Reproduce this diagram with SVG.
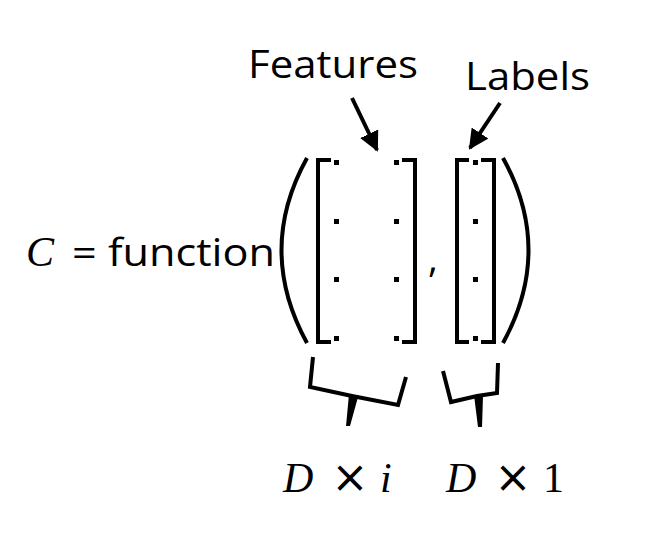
<svg xmlns="http://www.w3.org/2000/svg" width="655" height="540" viewBox="0 0 655 540">
<defs>
<style>
.t{font-family:"Open Sans","Liberation Sans",sans-serif;font-size:38px;fill:#000}
.m{font-family:"Liberation Serif","DejaVu Serif",serif;font-size:42px;fill:#000}
.x{font-family:"DejaVu Sans",sans-serif;font-size:44px;fill:#000;text-anchor:middle}
.s{fill:none;stroke:#000;stroke-width:4}
.d{fill:#000}
</style>
<marker id="ah" viewBox="0 0 10 10" refX="9" refY="5" markerWidth="5" markerHeight="5" orient="auto"><path d="M0,0L10,5L0,10z" fill="#000"/></marker>
</defs>
<rect width="655" height="540" fill="#fff"/>
<g id="labels">
<text class="t" x="248" y="78" textLength="170" lengthAdjust="spacingAndGlyphs">Features</text>
<text class="t" x="465" y="90" textLength="125" lengthAdjust="spacingAndGlyphs">Labels</text>
</g>
<g id="equation">
<text class="m" x="26" y="266" font-style="italic">C</text>
<text class="t" x="72" y="266" textLength="203" lengthAdjust="spacingAndGlyphs">= function</text>
<text class="t" x="428" y="272">,</text>
</g>
<g id="matrices">
<path class="s" d="M307,158 Q256,250 307,343"/>
<path class="s" d="M503,158 Q554,250 503,343"/>
<path class="s" d="M331,160 H318 V342 H331"/>
<path class="s" d="M402,160 H415 V342 H402"/>
<path class="s" d="M469,160 H457 V342 H469"/>
<path class="s" d="M481,160 H494 V342 H481"/>
<g class="d">
<rect x="334" y="160" width="5" height="5"/><rect x="394" y="160" width="5" height="5"/><rect x="473" y="160" width="5" height="5"/>
<rect x="334" y="219" width="5" height="5"/><rect x="394" y="219" width="5" height="5"/><rect x="473" y="219" width="5" height="5"/>
<rect x="334" y="277" width="5" height="5"/><rect x="394" y="277" width="5" height="5"/><rect x="473" y="277" width="5" height="5"/>
<rect x="334" y="336" width="5" height="5"/><rect x="394" y="336" width="5" height="5"/><rect x="473" y="336" width="5" height="5"/>
</g>
</g>
<g id="braces">
<path class="s" stroke-width="5" d="M313,357 L310,387 L352,396 L398,405 L406,377"/>
<path class="d" d="M349,394 L358,397 L350,426 L346,426 Z"/>
<path class="s" stroke-width="5" d="M443,371 L451,402 L477,396 L497,393 L498,363"/>
<path class="d" d="M474,395 L483,395 L482,427 L478,427 Z"/>
</g>
<g id="connectors">
<line class="s" x1="352" y1="98" x2="377" y2="150" stroke-width="3.5" marker-end="url(#ah)"/>
<line class="s" x1="500" y1="103" x2="470" y2="148" stroke-width="3.5" marker-end="url(#ah)"/>
</g>
<g id="dims">
<text class="m" x="283" y="492" font-style="italic">D</text>
<text class="x" x="350" y="492">×</text>
<text class="m" x="380" y="492" font-style="italic">i</text>
<text class="m" x="446" y="492" font-style="italic">D</text>
<text class="x" x="513" y="492">×</text>
<text class="m" x="543" y="492">1</text>
</g>
</svg>
